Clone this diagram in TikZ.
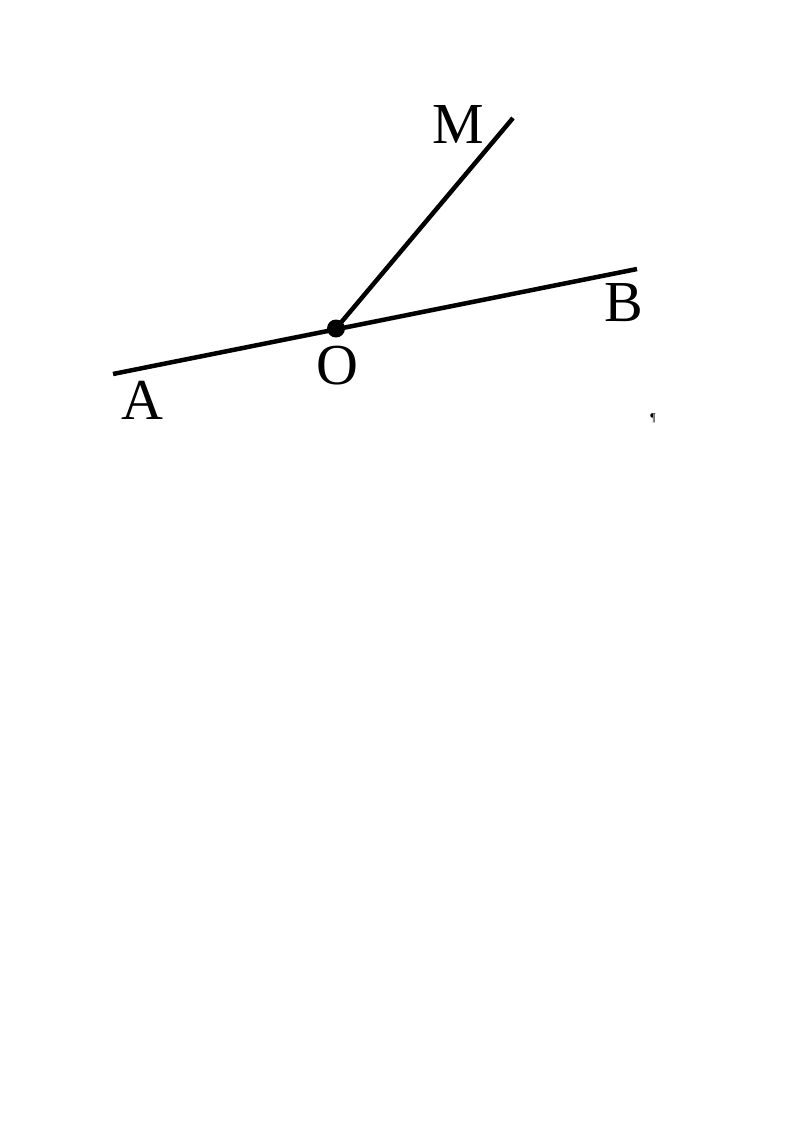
\documentclass[tikz,border=0pt]{standalone}
\usepackage{fontspec}
\setmainfont{Liberation Serif}
\begin{document}
\begin{tikzpicture}[x=1pt,y=-1pt,
  seg/.style={line width=4.5pt},
  lbl/.style={inner sep=0pt,font=\fontsize{58}{60}\selectfont},
  dotpt/.style={circle,fill=black,inner sep=0pt,minimum size=18pt}]
\useasboundingbox (0,0) rectangle (793,1122);
\coordinate (A) at (113,374);
\coordinate (B) at (637,269);
\coordinate (M) at (513,118);
\node[dotpt] (O) at (336,328.5) {};
\draw[seg] (A) -- (B);
\draw[seg] (O.center) -- (M);
\node[lbl] (lA) at (142,400) {A};
\node[lbl] (lB) at (624,303) {B};
\node[lbl] (lM) at (458,125) {M};
\node[lbl] (lO) at (337,366) {O};
\node[inner sep=0pt,font=\fontsize{12}{12}\selectfont] (pil) at (653,418) {¶};
\end{tikzpicture}
\end{document}
